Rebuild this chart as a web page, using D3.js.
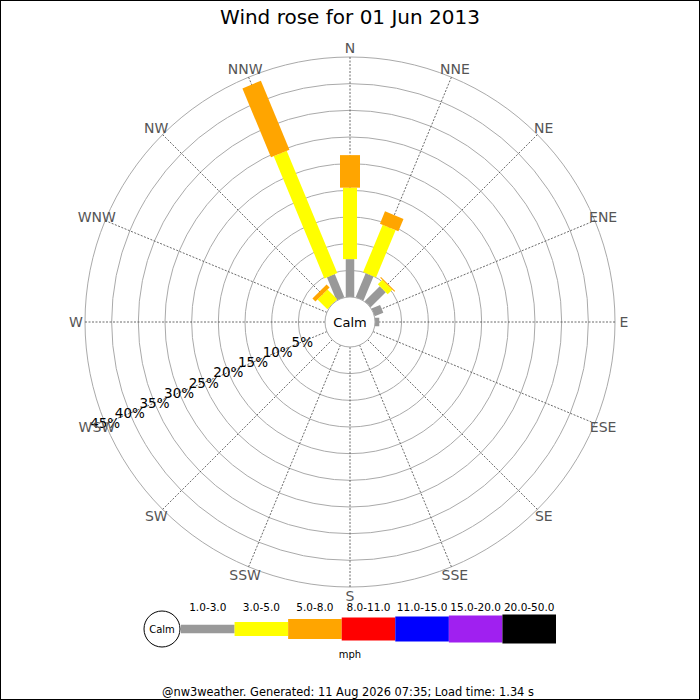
<!DOCTYPE html>
<html>
<head>
<meta charset="utf-8">
<script src="https://cdn.jsdelivr.net/npm/d3@7"></script>
<style>
    body { margin: 0; background: #fff; }
    svg { display: block; font-family: "DejaVu Sans", sans-serif; }
</style>
</head>
<body>
<div id="chart"></div>
<script>
// Data (percent of the day per speed bin)
const directions = ["N", "NNE", "NE", "ENE", "E", "ESE", "SE", "SSE",
    "S", "SSW", "SW", "WSW", "W", "WNW", "NW", "NNW"];
const speedBins = ["1.0-3.0", "3.0-5.0", "5.0-8.0", "8.0-11.0", "11.0-15.0", "15.0-20.0", "20.0-50.0"];
const bin1to3 = [7.1, 4.9, 4.0, 1.75, 0.8, 0, 0, 0, 0, 0, 0, 0, 0, 0, 0, 4.7];
const bin3to5 = [13.4, 9.6, 1.2, 0, 0, 0, 0, 0, 0, 0, 0, 0, 0, 0, 2.6, 24.8];
const bin5to8 = [6.1, 2.5, 0.2, 0, 0, 0, 0, 0, 0, 0, 0, 0, 0, 0, 0.8, 14.0];
const bin8to11 = new Array(16).fill(0);
const bin11to15 = new Array(16).fill(0);
const bin15to20 = new Array(16).fill(0);
const bin20to50 = new Array(16).fill(0);
const ringTicks = [5, 10, 15, 20, 25, 30, 35, 40, 45];
const titleText = "Wind rose for 01 Jun 2013";
const footerText = "@nw3weather. Generated: 11 Aug 2026 07:35; Load time: 1.34 s";

// Styles
const BIN_COLORS = ["#999999", "#ffff00", "#ffa500", "#ff0000", "#0000ff", "#a020f0", "#000000"];
const BIN_WIDTHS = [8.5, 14, 20, 23, 25, 27, 29];

const width = 700, height = 700;
const cx = 350, cy = 322;
const calmRadius = 25;

const binSeries = [bin1to3, bin3to5, bin5to8, bin8to11, bin11to15, bin15to20, bin20to50];
const table = directions.map((d, i) => {
    const row = {dir: d};
    speedBins.forEach((b, j) => row[b] = binSeries[j][i]);
    return row;
});
const stacked = d3.stack().keys(speedBins)(table);

const svg = d3.select("#chart").append("svg")
    .attr("width", width)
    .attr("height", height);

svg.append("rect")
    .attr("x", 0.5).attr("y", 0.5)
    .attr("width", width - 1).attr("height", height - 1)
    .attr("fill", "#fff").attr("stroke", "#000");

// Scales
const r = d3.scaleLinear().domain([0, 45]).range([calmRadius, 265]);
const angle = d3.scaleLinear().domain([0, directions.length]).range([0, 360]);
const rad = a => (a - 90) * Math.PI / 180;

const rose = svg.append("g").attr("transform", `translate(${cx},${cy})`);

// Rings
rose.selectAll("circle.ring")
    .data(ringTicks)
    .join("circle")
    .attr("class", "ring")
    .attr("r", d => r(d))
    .attr("fill", "none")
    .attr("stroke", "#aaa")
    .attr("stroke-width", 1);

// Spokes
rose.selectAll("line.spoke")
    .data(directions)
    .join("line")
    .attr("class", "spoke")
    .attr("x1", (d, i) => r(0) * Math.cos(rad(angle(i))))
    .attr("y1", (d, i) => r(0) * Math.sin(rad(angle(i))))
    .attr("x2", (d, i) => r(45) * Math.cos(rad(angle(i))))
    .attr("y2", (d, i) => r(45) * Math.sin(rad(angle(i))))
    .attr("stroke", "#444")
    .attr("stroke-width", 0.8)
    .attr("stroke-dasharray", "2,1.5");

// Bars, one stacked rectangle per bin and direction
stacked.forEach((layer, j) => {
    rose.selectAll(`rect.bin${j}`)
        .data(layer.filter(d => d[1] > d[0]))
        .join("rect")
        .attr("class", `bin${j}`)
        .attr("transform", d => `rotate(${angle(directions.indexOf(d.data.dir))})`)
        .attr("x", -BIN_WIDTHS[j] / 2)
        .attr("width", BIN_WIDTHS[j])
        .attr("y", d => -r(d[1]))
        .attr("height", d => r(d[1]) - r(d[0]))
        .attr("fill", BIN_COLORS[j]);
});

// Calm circle
rose.append("circle")
    .attr("r", calmRadius)
    .attr("fill", "#fff")
    .attr("stroke", "#aaa");
rose.append("text")
    .attr("text-anchor", "middle")
    .attr("dominant-baseline", "central")
    .attr("font-size", 13)
    .text("Calm");

// Ring labels along the WSW spoke
const tickAngle = rad(angle(directions.indexOf("WSW")));
rose.selectAll("text.tick")
    .data(ringTicks)
    .join("text")
    .attr("class", "tick")
    .attr("x", d => r(d) * Math.cos(tickAngle))
    .attr("y", d => r(d) * Math.sin(tickAngle))
    .attr("text-anchor", "middle")
    .attr("dominant-baseline", "central")
    .attr("font-size", 13.5)
    .attr("fill", "#000")
    .text(d => d + "%");

// Direction labels
rose.selectAll("text.dir")
    .data(directions)
    .join("text")
    .attr("class", "dir")
    .attr("x", (d, i) => 274 * Math.cos(rad(angle(i))))
    .attr("y", (d, i) => 274 * Math.sin(rad(angle(i))))
    .attr("text-anchor", "middle")
    .attr("dominant-baseline", "central")
    .attr("font-size", 14)
    .attr("fill", "#555")
    .text(d => d);

// Title
svg.append("text")
    .attr("x", cx).attr("y", 17)
    .attr("text-anchor", "middle")
    .attr("dominant-baseline", "central")
    .attr("font-size", 20)
    .text(titleText);

// Legend
const legendY = 629;
const legendX = d3.scaleBand().domain(speedBins).range([181, 556]);
const legend = svg.append("g");
legend.append("circle")
    .attr("cx", 162).attr("cy", legendY).attr("r", 18)
    .attr("fill", "#fff").attr("stroke", "#000");
legend.append("text")
    .attr("x", 162).attr("y", legendY)
    .attr("text-anchor", "middle")
    .attr("dominant-baseline", "central")
    .attr("font-size", 10)
    .text("Calm");
legend.selectAll("rect")
    .data(speedBins)
    .join("rect")
    .attr("x", d => legendX(d))
    .attr("width", legendX.bandwidth())
    .attr("y", (d, i) => legendY - BIN_WIDTHS[i] / 2)
    .attr("height", (d, i) => BIN_WIDTHS[i])
    .attr("fill", (d, i) => BIN_COLORS[i]);
legend.selectAll("text.bin")
    .data(speedBins)
    .join("text")
    .attr("class", "bin")
    .attr("x", d => legendX(d) + legendX.bandwidth() / 2)
    .attr("y", 607)
    .attr("text-anchor", "middle")
    .attr("dominant-baseline", "central")
    .attr("font-size", 10.5)
    .text(d => d);
legend.append("text")
    .attr("x", cx).attr("y", 654)
    .attr("text-anchor", "middle")
    .attr("dominant-baseline", "central")
    .attr("font-size", 10)
    .text("mph");

// Footer
svg.append("text")
    .attr("x", 348).attr("y", 692)
    .attr("text-anchor", "middle")
    .attr("dominant-baseline", "central")
    .attr("font-size", 11.4)
    .text(footerText);
</script>
</body>
</html>
